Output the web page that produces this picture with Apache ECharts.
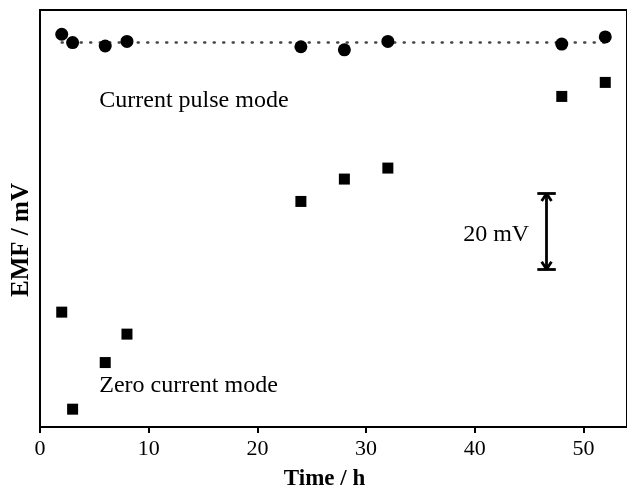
<!DOCTYPE html>
<html><head><meta charset="utf-8">
<script src="https://cdn.jsdelivr.net/npm/echarts@6/dist/echarts.min.js"></script>
<style>html,body{margin:0;padding:0;background:#fff}#c{width:627px;height:489px}</style>
</head><body><div id="c"></div>
<script>
const times = [2, 3, 6, 8, 24, 28, 32, 48, 52];
const pulseEMF = [103.6, 101.4, 100.5, 101.7, 100.3, 99.5, 101.7, 101.0, 102.9];
const zeroEMF = [30.3, 4.7, 17.0, 24.5, 59.5, 65.4, 68.3, 87.2, 90.9];
const fitX = [2, 52];
const fitY = [101.4, 101.4];
const xTicks = [0, 10, 20, 30, 40, 50];
const scaleBar = {x: 46.6, top: 61.6, bottom: 41.6, label: '20 mV'};

const F = 'Liberation Serif, Times New Roman, serif';
const chart = echarts.init(document.getElementById('c'), null, {renderer: 'canvas'});
const hw = 0.45, hh = 2.0, cap = 0.85;
const seg = (a, b) => [{coord: a}, {coord: b}];
const txt = {fontFamily: F, fontSize: 24, color: '#000'};
chart.setOption({
  animation: false,
  grid: {left: 40, top: 10, right: 0, bottom: 62, show: true, borderColor: '#000', borderWidth: 2,
         containLabel: false, outerBoundsMode: 'none'},
  xAxis: {
    type: 'value', min: 0, max: 54, interval: 10,
    name: 'Time / h', nameLocation: 'middle', nameGap: 41,
    nameTextStyle: {fontFamily: F, fontSize: 23, fontWeight: 'bold', color: '#000', padding: [0, 18, 0, 0]},
    axisLine: {show: true, lineStyle: {color: '#000', width: 2}},
    axisTick: {show: true, inside: false, length: 6, lineStyle: {color: '#000', width: 2}, customValues: xTicks},
    axisLabel: {fontFamily: F, fontSize: 22, color: '#000', margin: 11, customValues: xTicks},
    splitLine: {show: false}
  },
  yAxis: {
    type: 'value', min: 0, max: 110,
    name: 'EMF / mV', nameLocation: 'middle', nameGap: 6, nameRotate: 90,
    nameTextStyle: {fontFamily: F, fontSize: 25, fontWeight: 'bold', color: '#000', padding: [0, 43, 0, 0]},
    axisLine: {show: true, lineStyle: {color: '#000', width: 2}},
    axisTick: {show: false}, axisLabel: {show: false}, splitLine: {show: false}
  },
  series: [
    {
      type: 'line', data: fitX.map((x, i) => [x, fitY[i]]), symbol: 'none', z: 1,
      lineStyle: {color: '#444', width: 2.5, type: [1, 8.5], cap: 'round', opacity: 1}
    },
    {
      type: 'scatter', data: times.map((t, i) => [t, pulseEMF[i]]),
      symbol: 'circle', symbolSize: 13, itemStyle: {color: '#000', opacity: 1}, z: 3
    },
    {
      type: 'scatter', data: times.map((t, i) => [t, zeroEMF[i]]),
      symbol: 'rect', symbolSize: 11, itemStyle: {color: '#000', opacity: 1}, z: 3
    },
    {
      type: 'scatter', data: [], silent: true,
      markLine: {
        silent: true, symbol: ['none', 'none'], animation: false,
        label: {show: false},
        lineStyle: {color: '#000', width: 2.8, type: 'solid', opacity: 1},
        data: [
          seg([scaleBar.x, scaleBar.top], [scaleBar.x, scaleBar.bottom]),
          seg([scaleBar.x - cap, scaleBar.top], [scaleBar.x + cap, scaleBar.top]),
          seg([scaleBar.x - cap, scaleBar.bottom], [scaleBar.x + cap, scaleBar.bottom]),
          seg([scaleBar.x - hw, scaleBar.top - hh], [scaleBar.x, scaleBar.top]),
          seg([scaleBar.x + hw, scaleBar.top - hh], [scaleBar.x, scaleBar.top]),
          seg([scaleBar.x - hw, scaleBar.bottom + hh], [scaleBar.x, scaleBar.bottom]),
          seg([scaleBar.x + hw, scaleBar.bottom + hh], [scaleBar.x, scaleBar.bottom])
        ]
      }
    },
    {
      type: 'scatter', symbolSize: 0, silent: true, itemStyle: {opacity: 1},
      data: [
        {value: [5.45, 86.0], label: Object.assign({show: true, formatter: 'Current pulse mode', position: 'right', distance: 0}, txt)},
        {value: [5.45, 10.8], label: Object.assign({show: true, formatter: 'Zero current mode', position: 'right', distance: 0}, txt)},
        {value: [45.0, 50.6], label: Object.assign({show: true, formatter: scaleBar.label, position: 'left', distance: 0}, txt)}
      ]
    }
  ]
});
</script></body></html>
